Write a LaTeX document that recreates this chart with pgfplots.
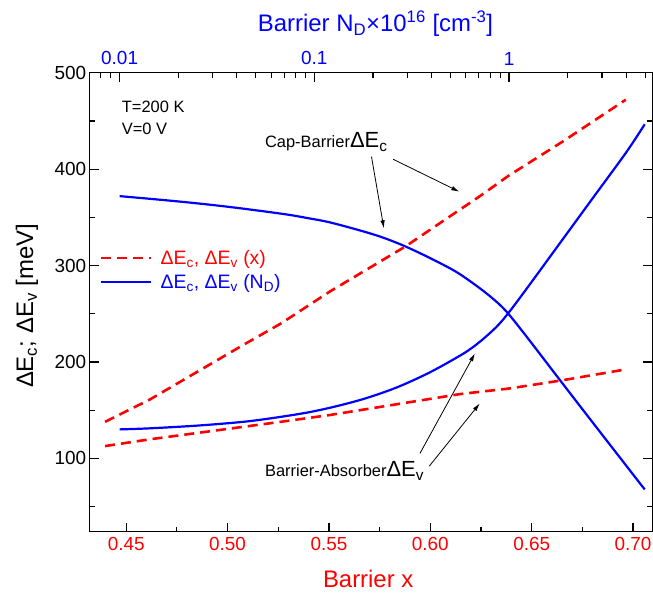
\documentclass[border=0pt]{standalone}
\usepackage{fontspec}
\setmainfont{Liberation Sans}
\usepackage{pgfplots}
\pgfplotsset{compat=1.18}
\usetikzlibrary{arrows.meta}

\definecolor{curvered}{RGB}{255,0,0}
\definecolor{curveblue}{RGB}{0,0,255}
\newcommand{\fs}[1]{\fontsize{#1}{#1}\selectfont}

% Band offsets versus Al fraction x (bottom axis)
\pgfplotstableread{
x      dE
0.4396 138.0
0.4616 161.0
0.5076 217.5
0.5264 240.0
0.5504 273.0
0.5875 319.5
0.6146 358.0
0.6245 372.0
0.6385 393.0
0.6656 429.0
0.6964 472.0
}\cbx
\pgfplotstableread{
x      dE
0.4396 112.8
0.4616 119.8
0.5264 138.0
0.5504 145.0
0.6146 166.7
0.6393 172.6
0.6656 181.2
0.6964 192.3
}\vbx
% Band offsets versus barrier doping N_D (top axis, units of 1e16 cm^-3)
\pgfplotstableread{
nd     dE
0.0100 372.0
0.0151 368.8
0.0224 365.5
0.0332 361.8
0.0493 357.5
0.0731 352.8
0.0937 349.0
0.1201 344.8
0.1780 335.5
0.2274 328.7
0.2914 320.1
0.3916 307.9
0.5370 293.3
0.7072 276.5
0.8615 262.5
0.9880 250.4
1.2280 226.5
1.8210 181.5
2.6990 136.8
4.9730 67.8
}\cbn
\pgfplotstableread{
nd     dE
0.0100 130.1
0.0143 131.2
0.0258 134.2
0.0467 138.7
0.0842 146.2
0.1201 152.5
0.1780 161.5
0.2642 173.5
0.3916 189.2
0.5806 208.5
0.7072 220.9
0.8615 236.4
0.9880 250.3
1.2280 275.7
1.8210 323.0
2.6990 370.3
4.0060 417.7
4.9730 446.5
}\vbn

\begin{document}
\begin{tikzpicture}
\path[use as bounding box] (-89.7bp,-64.3bp) rectangle (563.3bp,531.7bp);
\pgfplotsset{
  common/.style={
    scale only axis, width=562.6bp, height=459bp,
    at={(0,0)}, anchor=south west,
    ymin=24, ymax=500,
    axis line style={line width=1.5bp},
    every tick/.style={black, line width=1.2bp},
    major tick length=9bp, minor tick length=5bp,
    tick align=inside,
    /pgf/number format/assume math mode=true,
  }
}
% top axis: doping
\begin{axis}[common,
  xmode=log, xmin=0.00702, xmax=5.44,
  axis x line*=top, axis y line=none,
  xtick={0.01,0.1,1}, xticklabels={0.01,0.1,1},
  minor xtick={0.008,0.009,0.02,0.03,0.04,0.05,0.06,0.07,0.08,0.09,0.2,0.3,0.4,0.5,0.6,0.7,0.8,0.9,2,3,4,5},
  xticklabel style={text=curveblue, font=\fs{19}, yshift=4bp},
  xlabel={Barrier N\textsubscript{D}×10\textsuperscript{16} [cm\textsuperscript{-3}]},
  xlabel style={text=curveblue, font=\fs{24}, at={(axis description cs:0.508,1.106)}, anchor=center},
]
\addplot[curveblue, line width=2.2bp, smooth, tension=0.5] table[x=nd, y=dE] {\cbn};
\addplot[curveblue, line width=2.2bp, smooth, tension=0.5] table[x=nd, y=dE] {\vbn};
\end{axis}
% bottom axis: composition
\begin{axis}[common,
  xmin=0.432, xmax=0.7095,
  xtick={0.45,0.5,0.55,0.6,0.65,0.7},
  xticklabels={0.45,0.50,0.55,0.60,0.65,0.70},
  minor xtick={0.475,0.525,0.575,0.625,0.675},
  xtick pos=left,
  ytick={100,200,300,400,500},
  minor ytick={50,150,250,350,450},
  ytick pos=both, yticklabel pos=left,
  xticklabel style={text=curvered, font=\fs{19}, yshift=-2bp},
  yticklabel style={font=\fs{19}},
  xlabel={Barrier x},
  xlabel style={text=curvered, font=\fs{24}, at={(axis description cs:0.495,-0.103)}, anchor=center},
  ylabel={ΔE\textsubscript{c}; ΔE\textsubscript{v} [meV]},
  ylabel style={font=\fs{24}, at={(axis description cs:-0.1115,0.4917)}, anchor=center},
  legend style={at={(axis description cs:0.018,0.618)}, anchor=north west, draw=none, fill=none,
    font=\fs{19.5}, row sep=4.5bp, inner sep=0pt,
    /tikz/every odd column/.append style={column sep=6bp}},
  legend cell align=left,
  legend image code/.code={\draw[#1] (0bp,0bp) -- (50bp,0bp);},
]
\addplot[curvered, line width=2.6bp, dash pattern=on 10bp off 6bp] table[x=x, y=dE] {\cbx};
\addlegendentry{\textcolor{curvered}{ΔE\textsubscript{c}, ΔE\textsubscript{v} (x)}}
\addplot[curvered, line width=2.6bp, dash pattern=on 10bp off 6bp, forget plot] table[x=x, y=dE] {\vbx};
\addlegendimage{curveblue, line width=2.2bp}
\addlegendentry{\textcolor{curveblue}{ΔE\textsubscript{c}, ΔE\textsubscript{v} (N\textsubscript{D})}}

% annotations
\node[anchor=west, inner sep=0pt, font=\fs{16.5}] at (axis cs:0.4478,464.8) {T=200 K};
\node[anchor=west, inner sep=0pt, font=\fs{16.5}] at (axis cs:0.4478,441.6) {V=0 V};
\node[anchor=base west, inner sep=0pt] at (axis cs:0.5184,422)
  {{\fs{16.5}Cap-Barrier}{\fs{22}ΔE\textsubscript{c}}};
\node[anchor=base west, inner sep=0pt] at (axis cs:0.5184,80.8)
  {{\fs{16.5}Barrier-Absorber}{\fs{22}ΔE\textsubscript{v}}};
\draw[line width=0.8bp, -{Latex[length=8bp,width=4.5bp]}] (axis cs:0.5710,412.9) -- (axis cs:0.5771,338.6);
\draw[line width=0.8bp, -{Latex[length=8bp,width=4.5bp]}] (axis cs:0.5817,410.2) -- (axis cs:0.6143,376.6);
\draw[line width=0.8bp, -{Latex[length=8bp,width=4.5bp]}] (axis cs:0.5949,105.2) -- (axis cs:0.6220,208.9);
\draw[line width=0.8bp, -{Latex[length=8bp,width=4.5bp]}] (axis cs:0.5995,92.0) -- (axis cs:0.6244,157.0);
\end{axis}
\end{tikzpicture}
\end{document}
